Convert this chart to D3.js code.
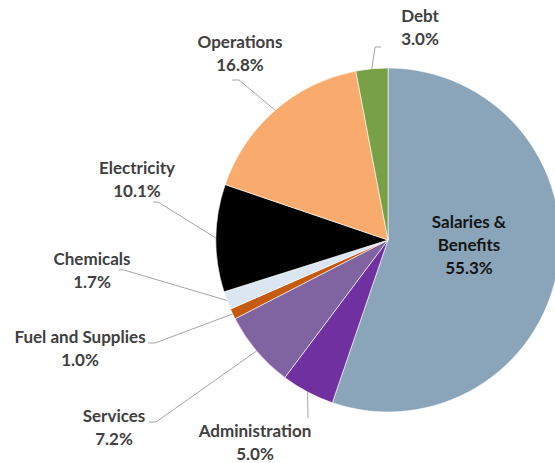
<!DOCTYPE html>
<html>
<head>
<meta charset="utf-8">
<script src="https://cdn.jsdelivr.net/npm/d3@7"></script>
<style>
  html, body { margin: 0; padding: 0; background: #fff; }
  svg { display: block; }
  text { font-family: Lato, "Open Sans", sans-serif; font-weight: 700; }
</style>
</head>
<body>
<svg id="chart" width="555" height="463"></svg>
<script>
// Budget categories, drawn clockwise from 12 o'clock
const categories = ["Salaries & Benefits", "Administration", "Services", "Fuel and Supplies",
                    "Chemicals", "Electricity", "Operations", "Debt"];
const shares = [55.3, 5.0, 7.2, 1.0, 1.7, 10.1, 16.8, 3.0];
const sliceColors = ["#8aa5ba", "#7030a0", "#8064a2", "#c55a11",
                     "#dce6f2", "#000000", "#f8ab6c", "#77a047"];

// Label placement: text anchor (centre x, first baseline) and leader-line elbow
const labelLayout = [
  { x: 469, y: 228, inside: true },
  { x: 255, y: 437, elbow: [[308, 418]] },
  { x: 114, y: 422, elbow: [[156, 422], [149, 422]] },
  { x: 80,  y: 343, elbow: [[155, 343], [148, 343]] },
  { x: 92,  y: 265, elbow: [[124, 270], [119, 270]] },
  { x: 137, y: 174, elbow: [[158, 202], [153, 202]] },
  { x: 240, y: 48,  elbow: [[239, 80], [232, 80]] },
  { x: 420, y: 22,  elbow: [[375, 47], [381, 47]] }
];

const cx = 388, cy = 240, radius = 172, lineGap = 23;

const svg = d3.select("#chart");
const g = svg.append("g").attr("transform", `translate(${cx},${cy})`);

const data = categories.map((name, i) => ({ name, value: shares[i], color: sliceColors[i], layout: labelLayout[i] }));

const pie = d3.pie().value(d => d.value).sort(null);
const arc = d3.arc().innerRadius(0).outerRadius(radius);
const arcs = pie(data);

g.selectAll("path.slice")
  .data(arcs)
  .enter().append("path")
  .attr("class", "slice")
  .attr("d", arc)
  .attr("fill", d => d.data.color)
  .attr("stroke", "#ffffff")
  .attr("stroke-width", 0.6);

// Leader lines from each slice's mid-angle on the rim out to its label
const rimPoint = d => {
  const a = (d.startAngle + d.endAngle) / 2;
  return [cx + radius * Math.sin(a), cy - radius * Math.cos(a)];
};

svg.selectAll("path.leader")
  .data(arcs.filter(d => !d.data.layout.inside))
  .enter().append("path")
  .attr("class", "leader")
  .attr("d", d => d3.line()([rimPoint(d), ...d.data.layout.elbow]))
  .attr("fill", "none")
  .attr("stroke", "#a6a6a6")
  .attr("stroke-width", 1);

const pct = v => v.toFixed(1) + "%";

arcs.forEach(d => {
  const L = d.data.layout;
  const lines = L.inside ? ["Salaries &", "Benefits", pct(d.data.value)]
                         : [d.data.name, pct(d.data.value)];
  const t = svg.append("text")
    .attr("text-anchor", "middle")
    .attr("font-size", 17)
    .attr("fill", L.inside ? "#151515" : "#404040");
  lines.forEach((s, i) => {
    t.append("tspan").attr("x", L.x).attr("y", L.y + i * lineGap).text(s);
  });
});
</script>
</body>
</html>
